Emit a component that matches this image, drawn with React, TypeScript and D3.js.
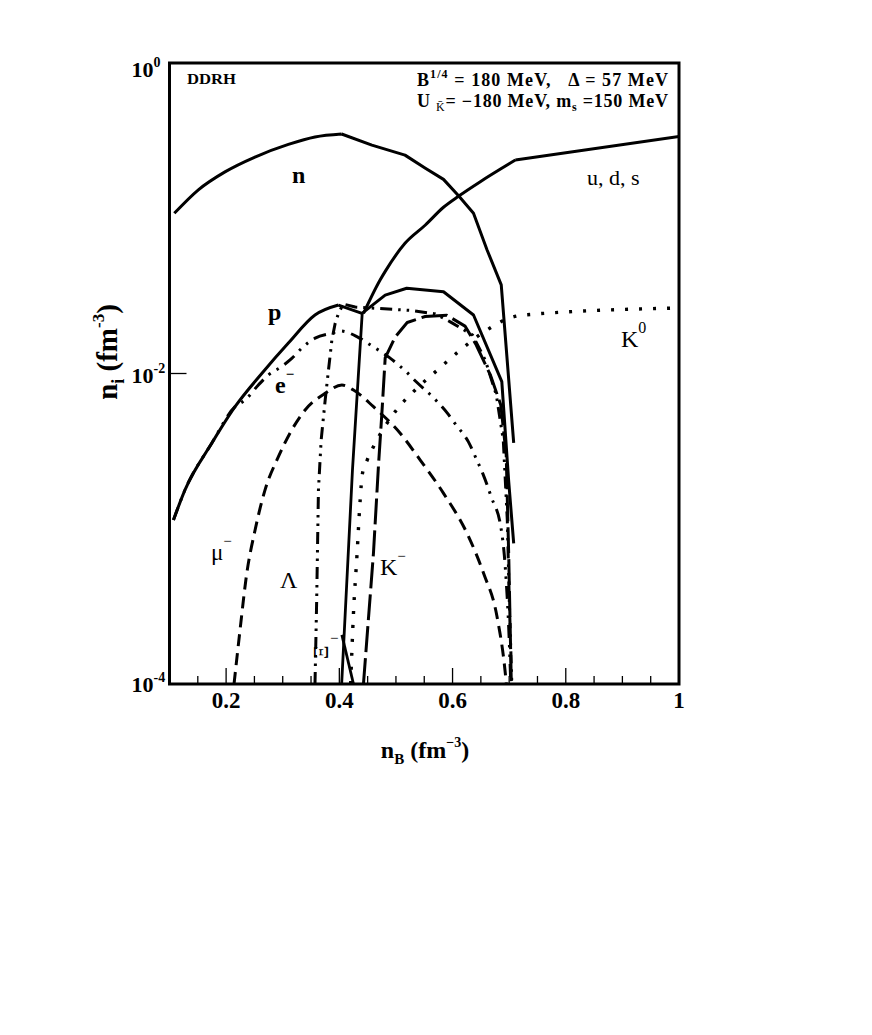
import React from "react";
import * as d3 from "d3";

type P = [number, number];

// ---- data (n_B in fm^-3, n_i in fm^-3) ----
const neutron: P[] = [
  [0.1085, 0.1076], [0.151, 0.1525], [0.198, 0.199], [0.251, 0.248], [0.31, 0.299],
  [0.357, 0.334], [0.404, 0.349], [0.4575, 0.296], [0.516, 0.255], [0.552, 0.21],
  [0.584, 0.178], [0.611, 0.139], [0.637, 0.1076], [0.661, 0.0625], [0.686, 0.0372],
  [0.708, 0.00358],
];
const quarks: P[] = [
  [0.4427, 0.0244], [0.472, 0.04], [0.4808, 0.0453], [0.516, 0.069], [0.552, 0.0905],
  [0.584, 0.1177], [0.611, 0.139], [0.649, 0.172], [0.711, 0.237], [1.0, 0.336],
];
const proton: P[] = [
  [0.107, 0.00114], [0.1274, 0.00178], [0.1746, 0.00355], [0.2158, 0.00611], [0.263, 0.01],
  [0.31, 0.0157], [0.357, 0.0238], [0.3985, 0.0276], [0.44, 0.0244], [0.481, 0.032],
  [0.519, 0.0354], [0.584, 0.0336], [0.637, 0.0238], [0.687, 0.00886], [0.699, 0.00206],
  [0.708, 0.000805],
];
const electron: P[] = [
  [0.107, 0.00114], [0.1274, 0.00178], [0.1746, 0.00355], [0.2158, 0.00611], [0.2335, 0.00675],
  [0.257, 0.00843], [0.2747, 0.00979], [0.2984, 0.0111], [0.316, 0.0125], [0.3366, 0.0149],
  [0.3573, 0.0169], [0.3868, 0.0182], [0.4015, 0.0188], [0.431, 0.0173], [0.4545, 0.0153],
  [0.488, 0.0127], [0.5176, 0.0103], [0.5358, 0.00885], [0.5659, 0.007], [0.5901, 0.0056],
  [0.6048, 0.00473], [0.6278, 0.00364], [0.6442, 0.0027], [0.6538, 0.00225], [0.6684, 0.0016],
  [0.6856, 0.00101], [0.6914, 0.000678], [0.695, 0.000448], [0.699, 0.00024], [0.7029, 0.0001],
];
const muon: P[] = [
  [0.214, 0.0001], [0.2246, 0.000223], [0.2361, 0.000504], [0.2512, 0.000982], [0.2688, 0.00178],
  [0.2924, 0.00291], [0.316, 0.00433], [0.3396, 0.00582], [0.3749, 0.00745], [0.4045, 0.00843],
  [0.425, 0.00783], [0.4603, 0.00611], [0.5075, 0.00412], [0.5429, 0.00277], [0.5841, 0.00169],
  [0.6255, 0.000935], [0.6548, 0.000516], [0.6785, 0.000272], [0.6932, 0.000117], [0.695, 0.0001],
];
const lambda: P[] = [
  [0.357, 0.0001], [0.36, 0.000348], [0.3631, 0.00178], [0.3679, 0.00373], [0.375, 0.00675],
  [0.3808, 0.0105], [0.3868, 0.0164], [0.3926, 0.021], [0.3985, 0.0244], [0.4068, 0.028],
  [0.428, 0.0268], [0.4722, 0.0262], [0.5252, 0.0255], [0.5694, 0.0242], [0.596, 0.0215],
  [0.6353, 0.0177], [0.6578, 0.0122], [0.6773, 0.00727], [0.6896, 0.00373], [0.6967, 0.00114],
  [0.7002, 0.000348], [0.7047, 0.0001],
];
const xiRise: P[] = [[0.4041, 0.0001], [0.4232, 0.00239], [0.4404, 0.0244]];
const xiDrop: P[] = [[0.4045, 0.000207], [0.425, 0.0001]];
const kaonMinus: P[] = [
  [0.4426, 0.0001], [0.4603, 0.000698], [0.4692, 0.00258], [0.4752, 0.00557], [0.481, 0.0126],
  [0.4987, 0.0172], [0.5199, 0.0213], [0.5517, 0.0233], [0.59, 0.0237], [0.622, 0.0202],
  [0.6408, 0.0155], [0.6667, 0.0098], [0.6852, 0.00627], [0.6948, 0.00299], [0.6994, 0.000629],
  [0.7038, 0.0001],
];
const kaonZero: P[] = [
  [0.42, 0.0001], [0.425, 0.000287], [0.431, 0.00066], [0.4368, 0.00153], [0.4404, 0.00222],
  [0.4492, 0.00277], [0.4603, 0.00338], [0.4987, 0.00568], [0.534, 0.00783], [0.573, 0.0105],
  [0.61, 0.0138], [0.6525, 0.0182], [0.6985, 0.0226], [0.725, 0.0238], [1.0, 0.0264],
];

const xMajorTicks = [0.2, 0.4, 0.6, 0.8];
const xMinorTicks = [0.15, 0.25, 0.3, 0.35, 0.45, 0.5, 0.55, 0.65, 0.7, 0.75, 0.85, 0.9, 0.95];
const xTickLabels: [number, string][] = [[0.2, "0.2"], [0.4, "0.4"], [0.6, "0.6"], [0.8, "0.8"], [1.0, "1"]];
const yTickValues = [1, 1e-2, 1e-4];
const yTickExps = ["0", "-2", "-4"];

const X0 = 169.5, X1 = 679, Y0 = 63, Y1 = 684;

export default function App() {
  const x = d3.scaleLinear().domain([0.1, 1]).range([X0, X1]);
  const y = d3.scaleLog().domain([1e-4, 1]).range([Y1, Y0]);
  const lin = d3.line<P>().x((d) => x(d[0])).y((d) => y(d[1]));
  const smooth = d3.line<P>().x((d) => x(d[0])).y((d) => y(d[1])).curve(d3.curveMonotoneX);

  const serif = "'Liberation Serif', 'Times New Roman', serif";
  // each series: smooth part up to index `k` (inclusive), linear afterwards
  const series: { d: P[]; dash?: string; w: number; k: number }[] = [
    { d: neutron, w: 3, k: 6 },
    { d: quarks, w: 3, k: 8 },
    { d: proton, w: 3, k: 7 },
    { d: xiRise, w: 2.8, k: 0 },
    { d: xiDrop, w: 2.8, k: 0 },
    { d: electron, w: 3, dash: "13,7,2.5,7,2.5,7", k: electron.length - 1 },
    { d: lambda, w: 3, dash: "12,6,2.5,6,2.5,6", k: 0 },
    { d: muon, w: 3, dash: "12,7", k: muon.length - 1 },
    { d: kaonMinus, w: 3, dash: "26,6", k: 0 },
    { d: kaonZero, w: 3.4, dash: "3,11", k: kaonZero.length - 1 },
  ];
  const pathFor = (s: { d: P[]; k: number }) => {
    const a = s.k > 0 ? smooth(s.d.slice(0, s.k + 1)) || "" : "";
    const rest = s.d.slice(Math.max(s.k, 0));
    const b = rest.length > 1 ? (lin(rest) || "") : "";
    return a + b;
  };

  return (
    <svg width={872} height={1035} style={{ position: "absolute", left: 0, top: 0, background: "#fff" }} fontFamily={serif}>
      <rect x={0} y={0} width={872} height={1035} fill="#fff" />
      <defs>
        <clipPath id="plot">
          <rect x={X0} y={Y0} width={X1 - X0} height={Y1 - Y0} />
        </clipPath>
      </defs>
      <g clipPath="url(#plot)" fill="none" stroke="#000">
        {series.map((s, i) => (
          <path key={i} d={pathFor(s)} strokeWidth={s.w} strokeDasharray={s.dash} strokeLinejoin="round" />
        ))}
      </g>
      {/* ticks */}
      <g stroke="#000" strokeWidth={1.3}>
        {xMajorTicks.map((t) => (
          <line key={"M" + t} x1={x(t)} x2={x(t)} y1={Y1} y2={Y1 - 16} />
        ))}
        {xMinorTicks.map((t) => (
          <line key={"m" + t} x1={x(t)} x2={x(t)} y1={Y1} y2={Y1 - 8} />
        ))}
        <line x1={X0} x2={X0 + 17} y1={y(1e-2)} y2={y(1e-2)} />
      </g>
      <rect x={X0} y={Y0} width={X1 - X0} height={Y1 - Y0} fill="none" stroke="#000" strokeWidth={3} />
      {/* x tick labels */}
      <g fontWeight="bold" fontSize={23} textAnchor="middle">
        {xTickLabels.map(([v, s]) => (
          <text key={s} x={x(v)} y={708}>{s}</text>
        ))}
      </g>
      {/* y tick labels */}
      <g fontWeight="bold" fontSize={22}>
        {yTickValues.map((v, i) => (
          <text key={v} x={X0 - 38} y={y(v) + (i === 0 ? 14 : i === 2 ? 8 : 9)}>
            10<tspan fontSize={14} dy={-10}>{yTickExps[i]}</tspan>
          </text>
        ))}
      </g>
      {/* axis titles */}
      <text x={425} y={758} fontWeight="bold" fontSize={24} textAnchor="middle">
        n<tspan fontSize={15} dy={6}>B</tspan><tspan dy={-6}> (fm</tspan><tspan fontSize={14} dy={-11}>−3</tspan><tspan dy={11}>)</tspan>
      </text>
      <text transform="translate(117,352) rotate(-90)" fontWeight="bold" fontSize={29} textAnchor="middle">
        n<tspan fontSize={18} dy={7}>i</tspan><tspan dy={-7}> (fm</tspan><tspan fontSize={17} dy={-13}>-3</tspan><tspan dy={13}>)</tspan>
      </text>
      {/* annotations */}
      <text x={187} y={84} fontWeight="bold" fontSize={14} textLength={49} lengthAdjust="spacingAndGlyphs">DDRH</text>
      <text x={417} y={86} fontWeight="bold" fontSize={18} textLength={251} lengthAdjust="spacing" style={{ whiteSpace: "pre" }}>
        B<tspan fontSize={12} dy={-8}>1/4</tspan><tspan dy={8}>{" = 180 MeV,   Δ = 57 MeV"}</tspan>
      </text>
      <text x={417} y={107} fontWeight="bold" fontSize={18} textLength={251} lengthAdjust="spacing" style={{ whiteSpace: "pre" }}>
        {"U "}<tspan fontSize={12} fontWeight="normal" dy={4}>{"K\u0304"}</tspan><tspan dy={-4}>{"= −180 MeV, m"}</tspan><tspan fontSize={12} dy={4}>s</tspan><tspan dy={-4}>{" =150 MeV"}</tspan>
      </text>
      <text x={292} y={183} fontWeight="bold" fontSize={24}>n</text>
      <text x={268} y={320} fontWeight="bold" fontSize={24}>p</text>
      <text x={275} y={393} fontWeight="bold" fontSize={24}>e<tspan fontSize={15} dy={-14}>−</tspan></text>
      <text x={587} y={185} fontSize={22}>u, d, s</text>
      <text x={621} y={347} fontSize={24}>K<tspan fontSize={16} dy={-14}>0</tspan></text>
      <text x={211} y={560} fontSize={23}>μ<tspan fontSize={15} dy={-14}>−</tspan></text>
      <text x={280} y={588} fontSize={24}>Λ</text>
      <text x={380} y={575} fontSize={24}>K<tspan fontSize={15} dy={-14}>−</tspan></text>
      <text transform="translate(328,659) rotate(-90)" fontSize={21}>Ξ</text>
      <text x={330} y={643} fontSize={15}>−</text>
    </svg>
  );
}
